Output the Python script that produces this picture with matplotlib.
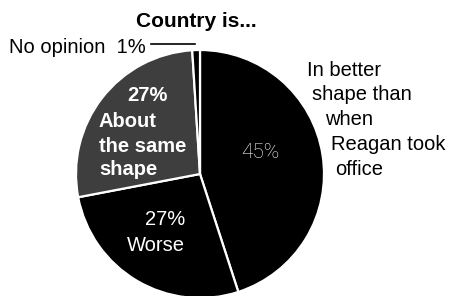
import matplotlib.pyplot as plt

plt.rcParams['font.family'] = ['Liberation Sans', 'DejaVu Sans']

labels = ['In better shape than when Reagan took office', 'Worse',
          'About the same shape', 'No opinion']
values = [45, 27, 27, 1]
colors = ['black', 'black', '#3e3e3e', 'black']

W, H = 452, 296
fig = plt.figure(figsize=(W / 100, H / 100), dpi=100)
ax = fig.add_axes([0, 0, 1, 1])

cx, cy, r = 200, H - 174, 124
wedges, _ = ax.pie(values, colors=colors, startangle=90, counterclock=False,
                   center=(cx, cy), radius=r,
                   wedgeprops=dict(edgecolor='white', linewidth=1.6))
ax.set_xlim(0, W)
ax.set_ylim(0, H)
ax.set_aspect('equal')
ax.axis('off')

fs = 14.5

def y(v):
    return H - v

ax.text(196, y(27), 'Country is...', fontsize=fs + 0.5, fontweight='bold',
        ha='center', va='baseline')

# no opinion label and leader line
ax.text(9, y(53), 'No opinion  1%', fontsize=fs, ha='left', va='baseline')
ax.plot([151, 195], [y(44), y(44)], color='black', lw=1.2)

# right side label, following the edge of the pie
right_lines = ['In better', 'shape than', 'when', 'Reagan took', 'office']
right_x = [307, 312, 325, 331, 335]
right_base = [76, 100, 125, 150, 175]
for t, xx, bb in zip(right_lines, right_x, right_base):
    ax.text(xx, y(bb), t, fontsize=fs, ha='left', va='baseline')

# labels inside the slices
ax.text(260, y(158), '45%', fontsize=fs + 0.5, color='white', ha='center',
        va='baseline', family=['Roboto', 'Liberation Sans'], fontweight='light')
ax.text(147, y(101), '27%', fontsize=fs, color='white', fontweight='bold',
        ha='center', va='baseline')
for t, bb in zip(['About', 'the same', 'shape'], [127, 152, 175]):
    ax.text(99, y(bb), t, fontsize=fs, color='white', fontweight='bold',
            ha='left', va='baseline')
ax.text(185, y(225), '27%', fontsize=fs, color='white', ha='right',
        va='baseline')
ax.text(185, y(251), 'Worse', fontsize=fs, color='white', ha='right',
        va='baseline')

plt.savefig('out.png', dpi=100)
